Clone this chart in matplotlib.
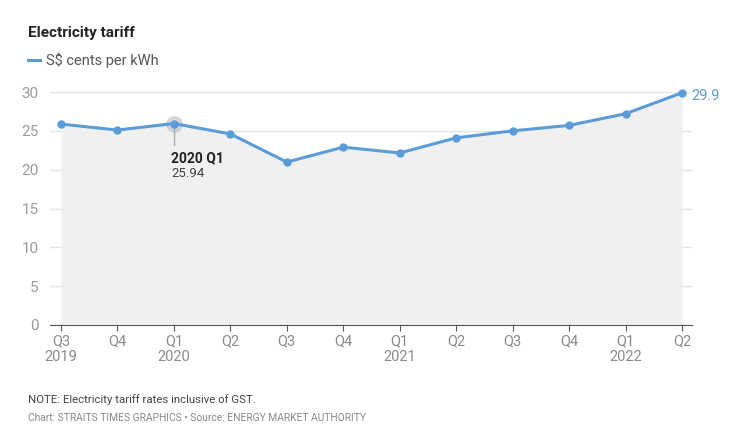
import matplotlib
matplotlib.use('Agg')
import matplotlib.pyplot as plt

quarters = ["Q3\n2019", "Q4", "Q1\n2020", "Q2", "Q3", "Q4", "Q1\n2021",
            "Q2", "Q3", "Q4", "Q1\n2022", "Q2"]
tariff = [25.87, 25.1, 25.94, 24.6, 20.98, 22.9, 22.15, 24.1, 25.0, 25.7, 27.2, 29.9]
y_ticks = [0, 5, 10, 15, 20, 25, 30]

BLUE = '#5b9bd8'
plt.rcParams['font.family'] = ['Roboto', 'DejaVu Sans']

fig = plt.figure(figsize=(7.43, 4.47), dpi=100)
W, H = 743, 447
ax = fig.add_axes([50 / W, (H - 325) / H, 642 / W, 233 / H])

x = list(range(len(tariff)))
ax.fill_between(x, tariff, 0, color='#f0f0f0', lw=0, zorder=1)
ax.plot(x, tariff, color=BLUE, lw=2.2, marker='o', ms=5, zorder=3, clip_on=False)

# highlighted point
hi = 2
ax.plot(hi, tariff[hi], 'o', ms=11, color='#c8c8c8', alpha=0.7, zorder=2)
ax.plot([hi, hi], [tariff[hi] - 0.6, tariff[hi] - 2.7], color='#aaaaaa', lw=1, zorder=2)
ax.text(hi - 0.05, 20.6, "2020 Q1", fontsize=10, fontweight='bold', color='#222222',
        va='bottom', ha='left', zorder=4)
ax.text(hi - 0.05, 20.3, f"{tariff[hi]:.2f}", fontsize=9.5, color='#444444',
        va='top', ha='left', zorder=4)

ax.text(len(tariff) - 1 + 0.17, tariff[-1] - 0.4, f"{tariff[-1]}", color=BLUE, fontsize=10.5,
        va='center', ha='left')

ax.set_xlim(-11 / 56.45, 11 + 10 / 56.45)
ax.set_ylim(0, 30)
ax.set_yticks(y_ticks)
ax.set_xticks(x)
ax.set_xticklabels(quarters)
ax.grid(axis='y', color='#e3e3e3', lw=1)
ax.set_axisbelow(True)
for s in ['top', 'right', 'left']:
    ax.spines[s].set_visible(False)
ax.spines['bottom'].set_color('#555555')
ax.spines['bottom'].set_zorder(5)
ax.tick_params(axis='y', length=0, labelsize=11, labelcolor='#9a9a9a', pad=8)
ax.tick_params(axis='x', length=4, color='#555555', labelsize=10.5, labelcolor='#8a8a8a', pad=3)
for lbl in ax.get_xticklabels():
    lbl.set_linespacing(1.1)

fig.text(28 / W, 1 - 33 / H, "Electricity tariff", fontsize=11, fontweight='bold',
         color='#222222', va='center')
fig.lines.append(plt.Line2D([28 / W, 40 / W], [1 - 60 / H, 1 - 60 / H], color=BLUE, lw=2.2,
                            transform=fig.transFigure))
fig.text(46 / W, 1 - 60 / H, "S$ cents per kWh", fontsize=10.5, color='#555555', va='center')
fig.text(28 / W, 1 - 400 / H, "NOTE: Electricity tariff rates inclusive of GST.",
         fontsize=8.2, color='#444444', va='center')
fig.text(28 / W, 1 - 418 / H,
         "Chart: STRAITS TIMES GRAPHICS \u2022 Source: ENERGY MARKET AUTHORITY",
         fontsize=7.4, color='#888888', va='center')

fig.savefig('out.png', dpi=100)
